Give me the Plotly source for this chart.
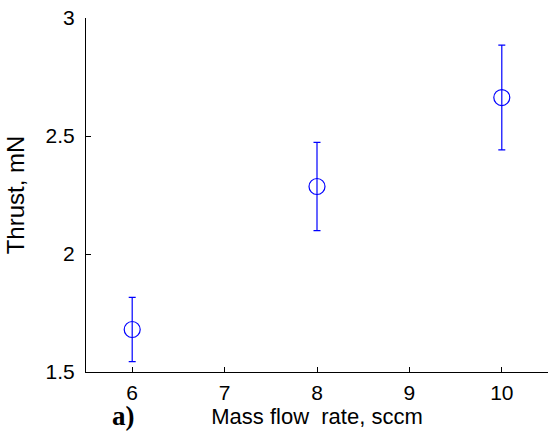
import plotly.graph_objects as go

mass_flow = [6, 8, 10]
thrust = [1.68, 2.286, 2.663]
thrust_err = [0.136, 0.187, 0.222]

x_ticks = [6, 7, 8, 9, 10]
y_ticks = [1.5, 2, 2.5, 3]
y_tick_labels = ["1.5", "2", "2.5", "3"]

fig = go.Figure()
fig.add_trace(go.Scatter(
    x=mass_flow, y=thrust, mode="markers",
    marker=dict(symbol="circle-open", size=16, color="#0000ff", line=dict(width=1.2, color="#0000ff")),
    error_y=dict(type="data", array=thrust_err, visible=True, color="#0000ff", thickness=1.2, width=3.5),
    showlegend=False,
))

font = dict(family="Liberation Sans, Arial, sans-serif", size=21, color="black")

fig.update_layout(
    width=550, height=433,
    margin=dict(l=86, r=2, t=18, b=61),
    paper_bgcolor="white", plot_bgcolor="white",
    font=font,
    xaxis=dict(
        range=[5.5, 10.5], tickvals=x_ticks, ticks="inside", ticklen=5, tickcolor="black",
        showline=True, linecolor="black", linewidth=1, showgrid=False, zeroline=False,
        tickfont=dict(size=21), ticklabelstandoff=2,
        title=dict(text="Mass flow  rate, sccm", font=dict(size=22), standoff=0),
    ),
    yaxis=dict(
        range=[1.5, 3], tickvals=y_ticks, ticktext=y_tick_labels, ticks="inside", ticklen=5,
        tickcolor="black", showline=True, linecolor="black", linewidth=1, showgrid=False,
        zeroline=False, tickfont=dict(size=21), ticklabelstandoff=6,
        title=dict(text="Thrust, mN", font=dict(size=24), standoff=14),
    ),
    annotations=[dict(
        text="<b>a)</b>", xref="paper", yref="paper", x=0.082, y=0, xanchor="center",
        yanchor="middle", yshift=-44, showarrow=False, borderpad=0,
        font=dict(family="Liberation Serif, Times New Roman, serif", size=27, color="black"),
    )],
)

fig.write_html("out.html")
